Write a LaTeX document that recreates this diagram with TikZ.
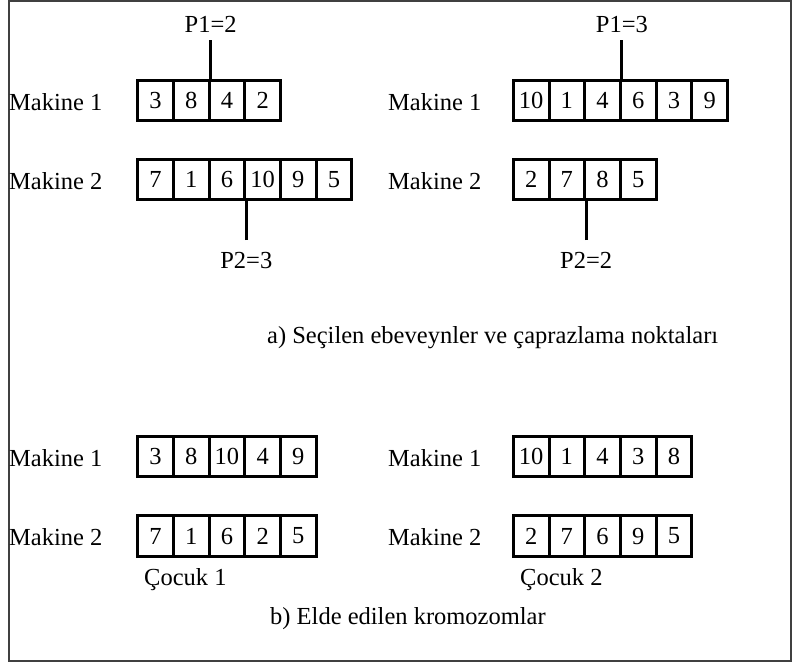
\documentclass[tikz,border=0pt]{standalone}
\usepackage{fontspec}
\setmainfont{Liberation Serif}
\usepackage{tikz}
\tikzstyle{cell}=[draw, line width=3pt, inner sep=0pt, minimum width=35.7pt, minimum height=40.5pt]
\tikzstyle{txt}=[inner sep=0pt, anchor=base west]
\tikzstyle{ptxt}=[inner sep=0pt, anchor=base]
\tikzstyle{cut}=[line width=3pt]

\begin{document}
\begin{tikzpicture}[x=1pt, y=-1pt, font=\fontsize{24.5}{29}\selectfont]
        \useasboundingbox (0,0) rectangle (792,664);
        \draw[line width=1.5pt, black!75] (9,1) rectangle (791,661);
        % selected parents
        \node[txt] (ma1) at (9,110) {Makine 1};
        \node[txt] (ma2) at (9,189.5) {Makine 2};
        \node[txt] (mb1) at (388,110) {Makine 1};
        \node[txt] (mb2) at (388,189.5) {Makine 2};
        \foreach \v [count=\i] in {3,8,4,2}
            \node[cell] (a1-\i) at (137.7+35.7*\i-17.85, 100.5) {\v};
        \foreach \v [count=\i] in {7,1,6,10,9,5}
            \node[cell] (a2-\i) at (137.7+35.7*\i-17.85, 179.5) {\v};
        \foreach \v [count=\i] in {10,1,4,6,3,9}
            \node[cell] (b1-\i) at (513.3+35.7*\i-17.85, 100.5) {\v};
        \foreach \v [count=\i] in {2,7,8,5}
            \node[cell] (b2-\i) at (513.3+35.7*\i-17.85, 179.5) {\v};
        % crossover points
        \node[ptxt] (pa1) at (a1-2.north east |- 0,32) {P1=2};
        \node[ptxt] (pa2) at (a2-3.south east |- 0,268) {P2=3};
        \node[ptxt] (pb1) at (b1-3.north east |- 0,32) {P1=3};
        \node[ptxt] (pb2) at (b2-2.south east |- 0,268) {P2=2};
        \coordinate (ca1) at (a1-2.north east |- 0,40);
        \coordinate (ca2) at (a2-3.south east |- 0,240);
        \coordinate (cb1) at (b1-3.north east |- 0,40);
        \coordinate (cb2) at (b2-2.south east |- 0,240);
        \draw[cut] (ca1) -- (a1-2.north east);
        \draw[cut] (ca2) -- (a2-3.south east);
        \draw[cut] (cb1) -- (b1-3.north east);
        \draw[cut] (cb2) -- (b2-2.south east);
        \node[txt] (capa) at (267,343) {a) Seçilen ebeveynler ve çaprazlama noktaları};
        % children
        \node[txt] (mc1) at (9,466) {Makine 1};
        \node[txt] (mc2) at (9,545.5) {Makine 2};
        \node[txt] (md1) at (388,466) {Makine 1};
        \node[txt] (md2) at (388,545.5) {Makine 2};
        \foreach \v [count=\i] in {3,8,10,4,9}
            \node[cell] (c1-\i) at (137.7+35.7*\i-17.85, 456.5) {\v};
        \foreach \v [count=\i] in {7,1,6,2,5}
            \node[cell] (c2-\i) at (137.7+35.7*\i-17.85, 536) {\v};
        \foreach \v [count=\i] in {10,1,4,3,8}
            \node[cell] (d1-\i) at (513.3+35.7*\i-17.85, 456.5) {\v};
        \foreach \v [count=\i] in {2,7,6,9,5}
            \node[cell] (d2-\i) at (513.3+35.7*\i-17.85, 536) {\v};
        \node[txt] (ch1) at (144,585) {Çocuk 1};
        \node[txt] (ch2) at (520,585) {Çocuk 2};
        \node[txt] (capb) at (270,624) {b) Elde edilen kromozomlar};
    \end{tikzpicture}
\end{document}
